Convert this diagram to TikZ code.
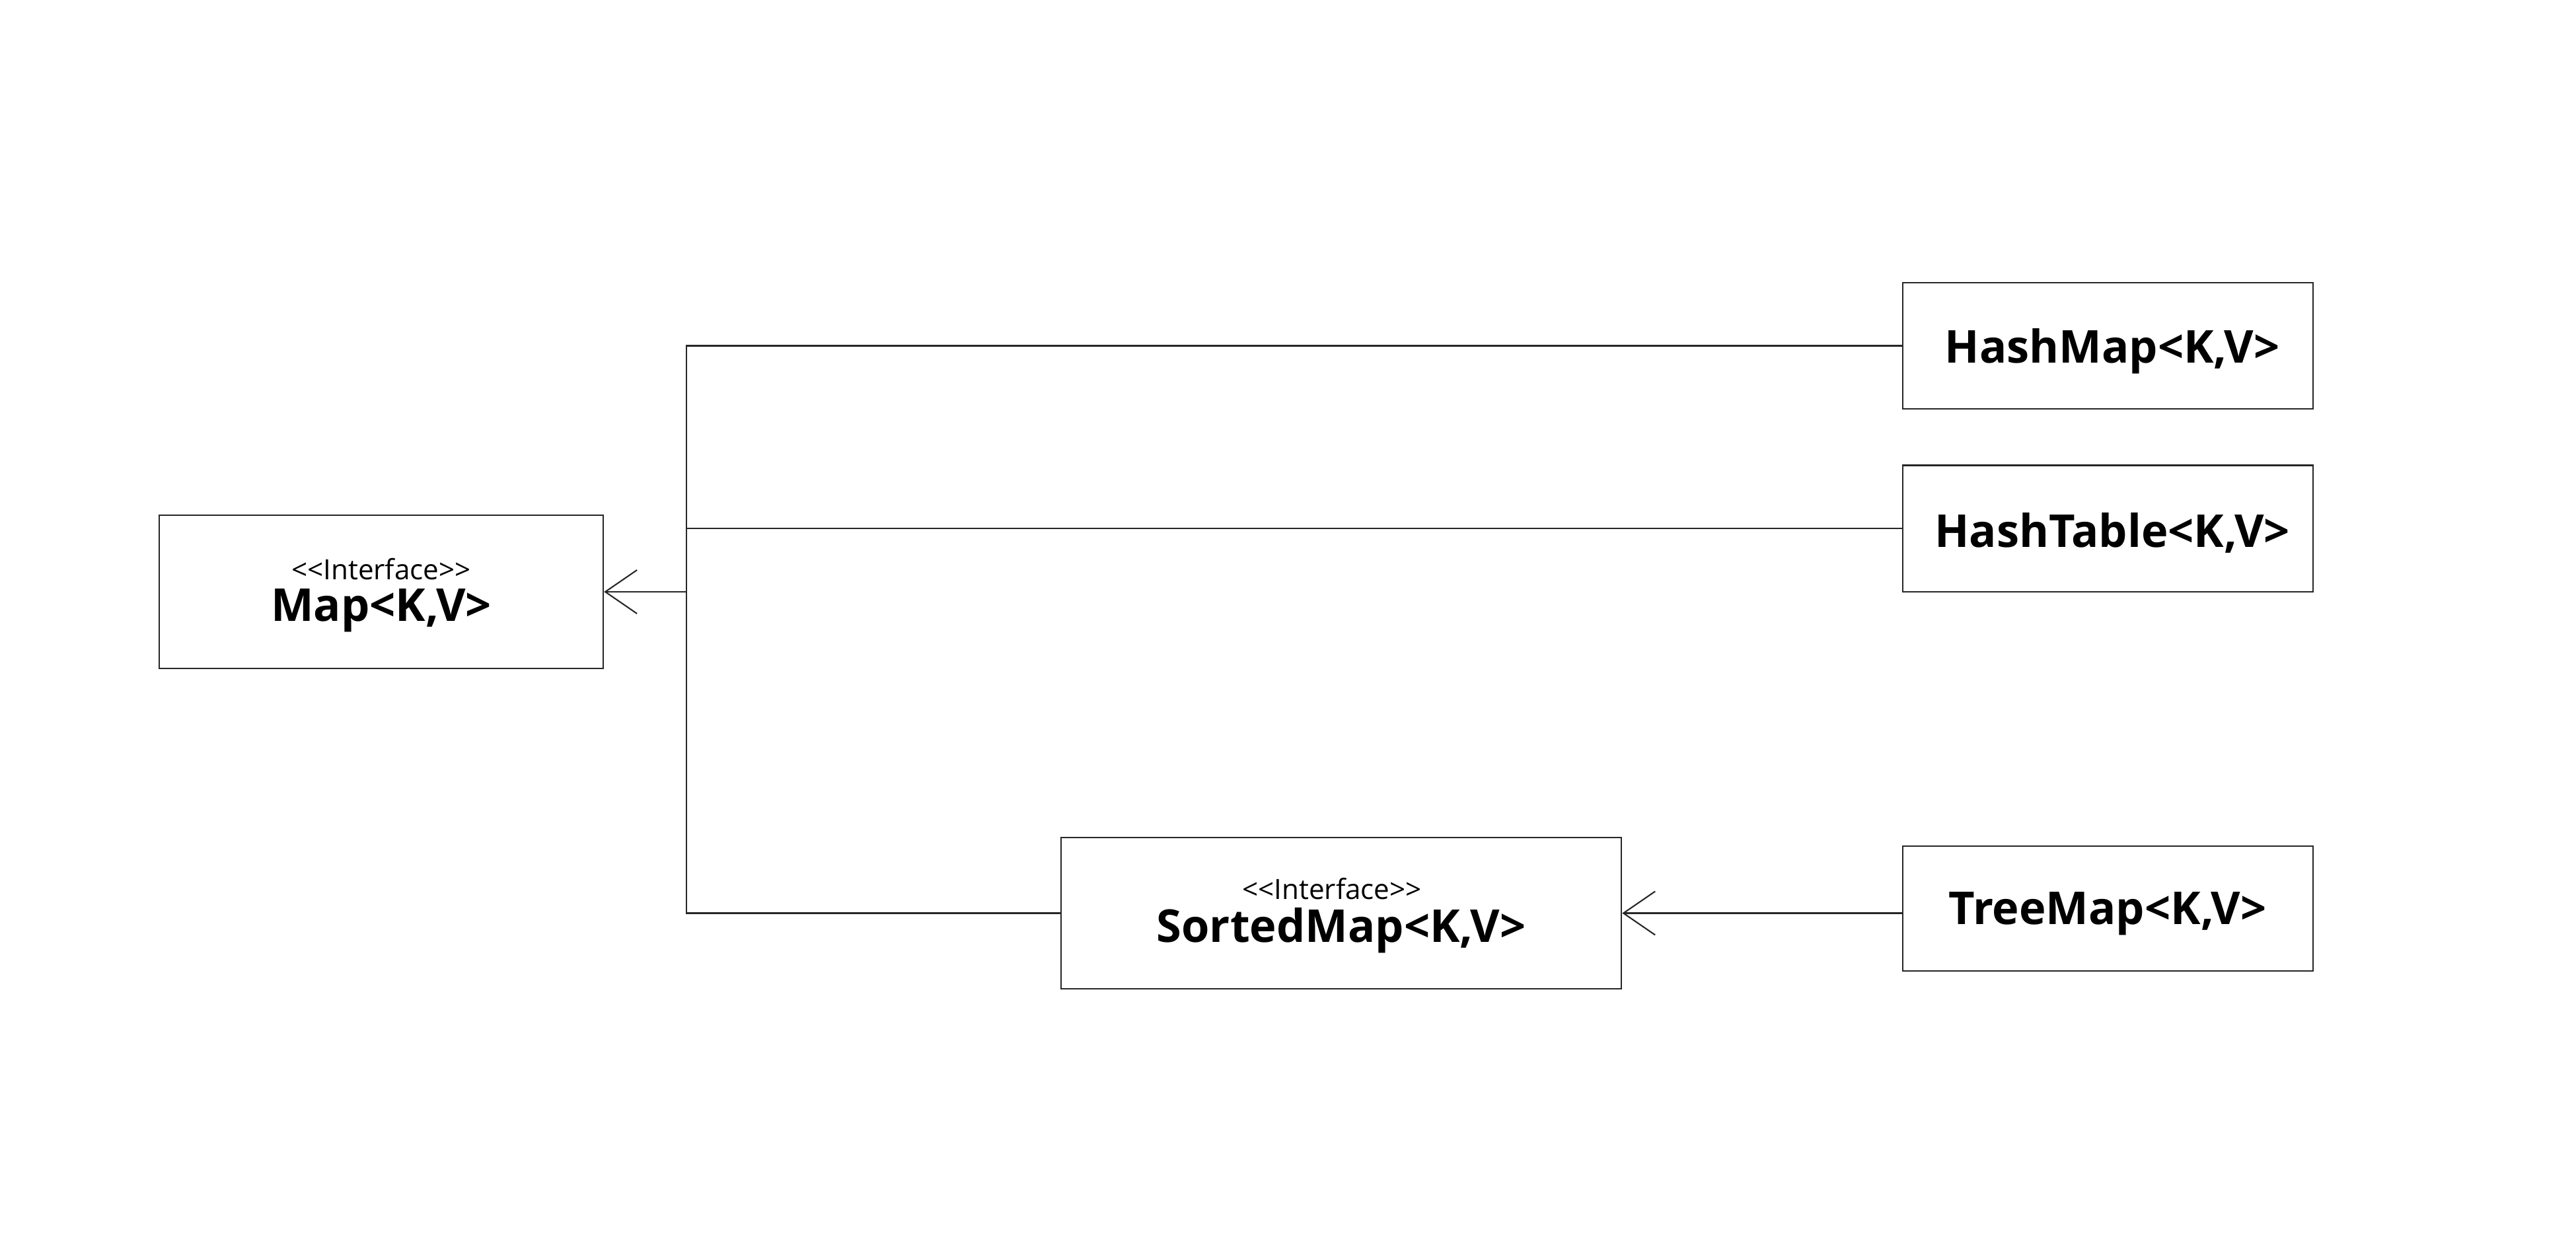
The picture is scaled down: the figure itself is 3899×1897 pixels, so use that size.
\documentclass[tikz,border=0pt]{standalone}
\usepackage{fontspec}
\setmainfont{Open Sans}
\usetikzlibrary{arrows.meta}
\tikzset{
  box/.style={draw=black!85, line width=0.6pt, fill=white, inner sep=0pt},
  conn/.style={draw=black!85, line width=0.6pt},
  arr/.style={conn, -{Straight Barb[length=4.8mm,width=6.6mm,line width=0.6pt]}},
  stereo/.style={font=\fontsize{12}{14}\selectfont, inner sep=0pt},
  cname/.style={font=\fontsize{19.5}{23}\selectfont\bfseries, inner sep=0pt},
}
\begin{document}
\begin{tikzpicture}[x=0.01cm,y=-0.01cm]
\useasboundingbox[fill=white] (0,0) rectangle (3899,1897);
% boxes
\node[box, minimum width=6.72cm, minimum height=2.31cm] (map) at (577,896) {};
\node[box, minimum width=6.21cm, minimum height=1.91cm] (hm) at (3190.5,523.5) {};
\node[box, minimum width=6.21cm, minimum height=1.91cm] (ht) at (3190.5,800) {};
\node[box, minimum width=8.48cm, minimum height=2.29cm] (sm) at (2030,1382.5) {};
\node[box, minimum width=6.21cm, minimum height=1.89cm] (tm) at (3190.5,1375.5) {};
% texts
\node[stereo] (mapst) at (577,862) {<{}<Interface>{}>};
\node[stereo] (smst) at (2016,1346) {<{}<Interface>{}>};
\node[cname] (mapnm) at (577,924) {Map<K,V>};
\node[cname] (smnm) at (2030,1409) {SortedMap<K,V>};
\node[cname] (hmnm) at (3197,532) {HashMap<K,V>};
\node[cname] (htnm) at (3197,807) {HashTable<K,V>};
\node[cname] (tmnm) at (3190,1383) {TreeMap<K,V>};
% connectors
\coordinate (j) at (1039,896);
\draw[conn] (hm.west) -| (j |- sm.west) -- (sm.west);
\draw[conn] (ht.west) -- (ht.west -| j);
\draw[arr] (j) -- (map.east);
\draw[arr] (sm.east -| tm.west) -- (sm.east);
\end{tikzpicture}
\end{document}
